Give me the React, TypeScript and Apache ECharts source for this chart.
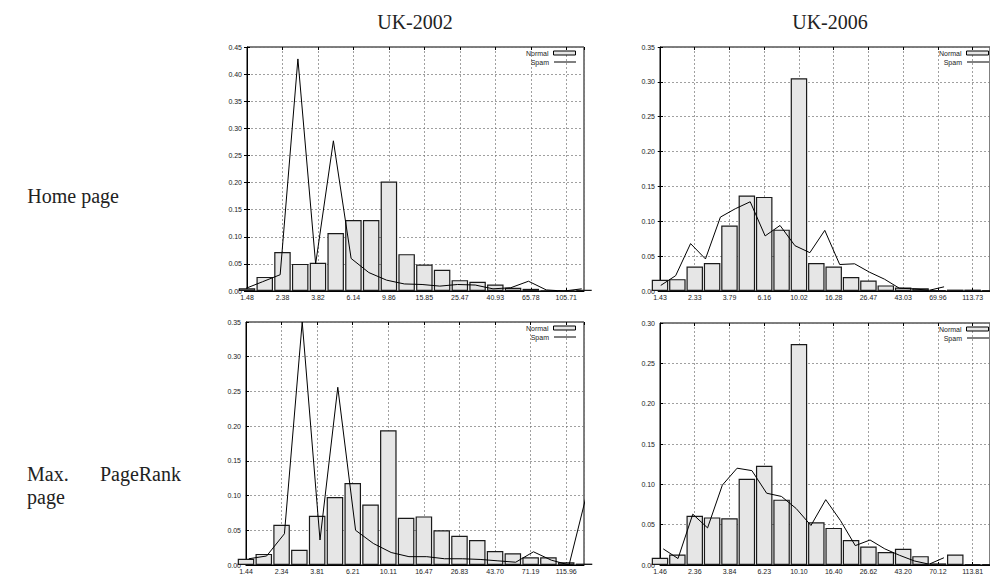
import React, { useEffect, useRef } from "react";
import * as echarts from "echarts";

// ---- Data ----
const columnTitles = ["UK-2002", "UK-2006"];
const rowLabelHome = "Home page";
const rowLabelMax = ["Max.", "PageRank", "page"];

const home2002Ticks = ["1.48", "2.38", "3.82", "6.14", "9.86", "15.85", "25.47", "40.93", "65.78", "105.71"];
const home2002Normal = [0.005, 0.026, 0.072, 0.05, 0.052, 0.107, 0.131, 0.131, 0.202, 0.068, 0.049, 0.039, 0.02, 0.017, 0.012, 0.006, 0.004, 0.001, 0.0005, 0.002];
const home2002Spam = [0.004, 0.017, 0.03, 0.428, 0.05, 0.277, 0.06, 0.034, 0.02, 0.013, 0.012, 0.009, 0.012, 0.011, 0.004, 0.006, 0.018, 0.002, 0.0, 0.004];

const home2006Ticks = ["1.43", "2.33", "3.79", "6.16", "10.02", "16.28", "26.47", "43.03", "69.96", "113.73"];
const home2006Normal = [0.016, 0.017, 0.035, 0.04, 0.094, 0.137, 0.135, 0.088, 0.305, 0.04, 0.035, 0.02, 0.015, 0.008, 0.005, 0.004, 0.001, 0.002, 0.002, 0.001];
const home2006Spam = [0.008, 0.022, 0.068, 0.046, 0.106, 0.118, 0.128, 0.079, 0.094, 0.065, 0.055, 0.087, 0.038, 0.039, 0.027, 0.017, 0.004, 0.003, 0.001, 0.006];

const pr2002Ticks = ["1.44", "2.34", "3.81", "6.21", "10.11", "16.47", "26.83", "43.70", "71.19", "115.96"];
const pr2002Normal = [0.009, 0.016, 0.058, 0.022, 0.071, 0.098, 0.118, 0.087, 0.194, 0.068, 0.07, 0.05, 0.042, 0.036, 0.02, 0.017, 0.011, 0.011, 0.004, 0.002];
const pr2002Spam = [0.009, 0.013, 0.045, 0.35, 0.036, 0.256, 0.05, 0.031, 0.018, 0.012, 0.012, 0.009, 0.009, 0.008, 0.006, 0.004, 0.019, 0.007, 0.0, 0.103];

const pr2006Ticks = ["1.46", "2.36", "3.84", "6.23", "10.10", "16.40", "26.62", "43.20", "70.12", "113.81"];
const pr2006Normal = [0.009, 0.013, 0.061, 0.059, 0.058, 0.107, 0.123, 0.081, 0.274, 0.053, 0.046, 0.031, 0.023, 0.016, 0.02, 0.011, 0.002, 0.013, 0.001, 0.001];
const pr2006Spam = [0.02, 0.008, 0.063, 0.046, 0.099, 0.12, 0.117, 0.089, 0.085, 0.07, 0.049, 0.081, 0.055, 0.024, 0.031, 0.02, 0.012, 0.005, 0.001, 0.009];

const yMaxes = [0.45, 0.35, 0.35, 0.3];

// ---- Layout ----
const W = 990;
const H = 575;
type Panel = {
  ticks: string[];
  normal: number[];
  spam: number[];
  yMax: number;
  box: { left: number; top: number; width: number; height: number };
  spamRange: [number, number];
};

const panels: Panel[] = [
  { ticks: home2002Ticks, normal: home2002Normal, spam: home2002Spam, yMax: yMaxes[0], box: { left: 247, top: 47, width: 337, height: 244 }, spamRange: [0.13, 19.13] },
  { ticks: home2006Ticks, normal: home2006Normal, spam: home2006Spam, yMax: yMaxes[1], box: { left: 660, top: 47, width: 337, height: 244 }, spamRange: [-0.05, 22.08] },
  { ticks: pr2002Ticks, normal: pr2002Normal, spam: pr2002Spam, yMax: yMaxes[2], box: { left: 246, top: 322, width: 338, height: 245 }, spamRange: [-0.16, 18.84] },
  { ticks: pr2006Ticks, normal: pr2006Normal, spam: pr2006Spam, yMax: yMaxes[3], box: { left: 660, top: 323, width: 337, height: 244 }, spamRange: [-0.22, 22.12] },
];

const SANS = "Liberation Sans";
const SERIF = "Liberation Serif";
const TXT = "#222";
const tickStyle = { show: true, inside: true, length: 3, lineStyle: { color: "#000" } };
const gridLine = { show: true, lineStyle: { color: "#777", width: 0.7, type: [2, 2] } };

function buildOption() {
  const grid: any[] = [];
  const xAxis: any[] = [];
  const yAxis: any[] = [];
  const series: any[] = [];
  const legend: any[] = [];

  panels.forEach((p, i) => {
    const { left, top, width, height } = p.box;
    const unit = width / 19;
    grid.push({ left, top, width, height, show: true, borderColor: "#000", borderWidth: 1, backgroundColor: "transparent" });
    // x axes: main (bottom), spam line scale (hidden), mirror ticks (top)
    xAxis.push({
      type: "value",
      gridIndex: i,
      min: 0,
      max: 19,
      interval: 2,
      axisLine: { show: true, lineStyle: { color: "#000", width: 1 } },
      axisTick: tickStyle,
      splitLine: gridLine,
      axisLabel: {
        fontFamily: SANS,
        fontSize: 7,
        color: TXT,
        margin: 3,
        showMaxLabel: false,
        formatter: (v: number) => {
          const k = Math.round(v);
          return k % 2 === 0 && k / 2 < p.ticks.length ? p.ticks[k / 2] : "";
        },
      },
    });
    xAxis.push({ type: "value", gridIndex: i, min: p.spamRange[0], max: p.spamRange[1], show: false });
    xAxis.push({
      type: "value",
      gridIndex: i,
      position: "top",
      min: 0,
      max: 19,
      interval: 2,
      axisLine: { show: false },
      axisTick: tickStyle,
      splitLine: { show: false },
      axisLabel: { show: false },
    });
    // y axes: main (left), mirror ticks (right)
    yAxis.push({
      type: "value",
      gridIndex: i,
      min: 0,
      max: p.yMax,
      interval: 0.05,
      axisLine: { show: true, lineStyle: { color: "#000", width: 1 } },
      axisTick: tickStyle,
      splitLine: gridLine,
      axisLabel: { fontFamily: SANS, fontSize: 7, color: TXT, margin: 5, formatter: (v: number) => v.toFixed(2) },
    });
    yAxis.push({
      type: "value",
      gridIndex: i,
      position: "right",
      min: 0,
      max: p.yMax,
      interval: 0.05,
      axisLine: { show: false },
      axisTick: tickStyle,
      splitLine: { show: false },
      axisLabel: { show: false },
    });
    series.push({
      type: "bar",
      name: "Normal",
      xAxisIndex: i * 3,
      yAxisIndex: i * 2,
      barWidth: unit * 0.93,
      clip: true,
      data: p.normal.map((v, k) => [k, v]),
      itemStyle: { color: "#e6e6e6", borderColor: "#1a1a1a", borderWidth: 1.2 },
    });
    series.push({
      type: "line",
      name: "Spam",
      xAxisIndex: i * 3 + 1,
      yAxisIndex: i * 2,
      symbol: "none",
      clip: true,
      data: p.spam.map((v, k) => [k, v]),
      lineStyle: { color: "#000", width: 1 },
      itemStyle: { color: "#000" },
    });
    const legendBase = {
      orient: "vertical",
      align: "right",
      right: W - (left + width - 8),
      itemWidth: 22,
      selectedMode: false,
      padding: 0,
      textStyle: { fontFamily: SANS, fontSize: 7, color: TXT, lineHeight: 8 },
    };
    legend.push({
      ...legendBase,
      top: top + 2,
      itemHeight: 4,
      data: [{ name: "Normal", icon: "rect", itemStyle: { color: "#e6e6e6", borderColor: "#000", borderWidth: 1 } }],
    });
    legend.push({
      ...legendBase,
      top: top + 11,
      itemHeight: 1,
      data: [{ name: "Spam", icon: "rect", itemStyle: { color: "#000", borderWidth: 0 } }],
    });
  });

  const serif = (size: number) => `${size}px '${SERIF}'`;
  const t = (text: string, x: number, y: number, align: string, size = 20) => ({
    type: "text",
    x,
    y,
    silent: true,
    style: { text, font: serif(size), fill: TXT, textAlign: align, textVerticalAlign: "middle" },
  });
  const graphic: any[] = [
    t(columnTitles[0], 415, 22, "center"),
    t(columnTitles[1], 830, 22, "center"),
    t(rowLabelHome, 119, 196, "right"),
    t(rowLabelMax[0], 27, 474, "left"),
    t(rowLabelMax[1], 181, 474, "right"),
    t(rowLabelMax[2], 27, 497, "left"),
  ];

  return { animation: false, backgroundColor: "#fff", grid, xAxis, yAxis, series, legend, graphic };
}

export default function App() {
  const ref = useRef<HTMLDivElement>(null);
  useEffect(() => {
    if (!ref.current) return;
    const chart = echarts.init(ref.current, undefined, { renderer: "svg", width: W, height: H });
    chart.setOption(buildOption());
    return () => chart.dispose();
  }, []);
  return <div ref={ref} style={{ position: "absolute", left: 0, top: 0, width: W, height: H }} />;
}
